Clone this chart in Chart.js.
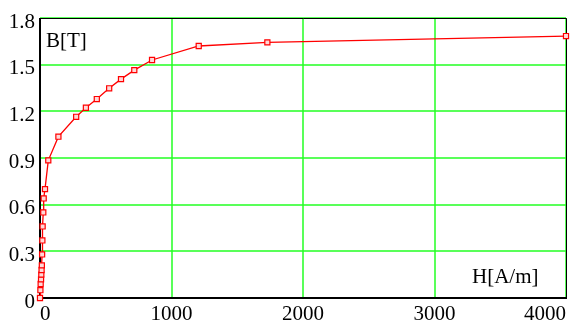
<!DOCTYPE html>
<html>
<head>
<meta charset="utf-8">
<script src="https://cdn.jsdelivr.net/npm/chart.js@4"></script>
</head>
<body style="margin:0">
<canvas id="chart" width="575" height="323"></canvas>
<script>
// magnetisation curve, H in A/m, B in T
const H = [0, 3, 5, 8, 10, 12, 14, 16, 18, 20, 25, 28, 38, 63, 140, 275, 349, 432, 526, 616, 717, 852, 1207, 1729, 4000];
const B = [0, 0.05, 0.09, 0.12, 0.15, 0.18, 0.21, 0.28, 0.37, 0.46, 0.55, 0.64, 0.70, 0.885, 1.037, 1.165, 1.223, 1.279, 1.348, 1.407, 1.465, 1.53, 1.62, 1.643, 1.684];

const xTicks = [0, 1000, 2000, 3000, 4000];
const xTickLabels = ["0", "1000", "2000", "3000", "4000"];
const yTicks = [0, 0.3, 0.6, 0.9, 1.2, 1.5, 1.8];
const yTickLabels = ["0", "0.3", "0.6", "0.9", "1.2", "1.5", "1.8"];

Chart.defaults.font.family = "Liberation Serif";
Chart.defaults.font.size = 21;
Chart.defaults.color = "#000";
const FONT = "21px \"Liberation Serif\"";

const framePlugin = {
    id: "frame",
    beforeDatasetsDraw(chart){
        const ctx = chart.ctx;
        const a = chart.chartArea;
        const xs = chart.scales.x, ys = chart.scales.y;
        ctx.save();
        ctx.strokeStyle = "#22ff22";
        ctx.lineWidth = 1.5;
        xTicks.forEach(v=>{
            const px = Math.round(xs.getPixelForValue(v));
            ctx.beginPath();
            ctx.moveTo(px, a.top);
            ctx.lineTo(px, a.bottom);
            ctx.stroke();
        });
        yTicks.forEach(v=>{
            const py = Math.round(ys.getPixelForValue(v));
            ctx.beginPath();
            ctx.moveTo(a.left, py);
            ctx.lineTo(a.right, py);
            ctx.stroke();
        });
        // frame
        ctx.strokeStyle = "#000";
        ctx.lineWidth = 1;
        ctx.beginPath();
        ctx.moveTo(a.left, a.top + 0.5);
        ctx.lineTo(a.right + 0.5, a.top + 0.5);
        ctx.lineTo(a.right + 0.5, a.bottom);
        ctx.stroke();
        ctx.lineWidth = 2;
        ctx.beginPath();
        ctx.moveTo(a.left, a.top);
        ctx.lineTo(a.left, a.bottom);
        ctx.lineTo(a.right + 1, a.bottom);
        ctx.stroke();
        ctx.restore();
    },
    afterDraw(chart){
        const ctx = chart.ctx;
        const a = chart.chartArea;
        ctx.save();
        ctx.font = FONT;
        ctx.fillStyle = "#000";
        ctx.fillText("B[T]", a.left + 6, a.top + 29);
        ctx.fillText("H[A/m]", 472, a.bottom - 15);
        ctx.restore();
    }
};

new Chart(document.getElementById("chart"), {
    type: "line",
    data: {
        datasets: [{
            data: H.map((h, i)=>({x: h, y: B[i]})),
            borderColor: "#ff0000",
            borderWidth: 1.3,
            pointStyle: "rect",
            pointRadius: 3.6,
            pointBorderWidth: 1.2,
            pointBorderColor: "#ff0000",
            pointBackgroundColor: "#ffd8d8",
            tension: 0,
            clip: false
        }]
    },
    options: {
        responsive: false,
        animation: false,
        layout: { padding: { left: 0, right: 9, top: 18, bottom: 0 } },
        plugins: { legend: { display: false }, tooltip: { enabled: false } },
        scales: {
            x: {
                type: "linear", min: 0, max: 4000,
                grid: { display: false, drawTicks: false },
                border: { display: false },
                afterBuildTicks: axis => { axis.ticks = xTicks.map(value => ({value})); },
                afterFit: axis => { axis.height = 25; },
                ticks: {
                    autoSkip: false, maxRotation: 0, align: "inner", padding: 4,
                    color: "#000", font: { family: "Liberation Serif", size: 21 },
                    callback: (v, i) => xTickLabels[i]
                }
            },
            y: {
                type: "linear", min: 0, max: 1.8,
                grid: { display: false, drawTicks: false },
                border: { display: false },
                afterBuildTicks: axis => { axis.ticks = yTicks.map(value => ({value})); },
                afterFit: axis => { axis.width = 40; },
                ticks: {
                    autoSkip: false, padding: 5, labelOffset: 4,
                    color: "#000", font: { family: "Liberation Serif", size: 21 },
                    callback: (v, i) => yTickLabels[i]
                }
            }
        }
    },
    plugins: [framePlugin]
});
</script>
</body>
</html>
